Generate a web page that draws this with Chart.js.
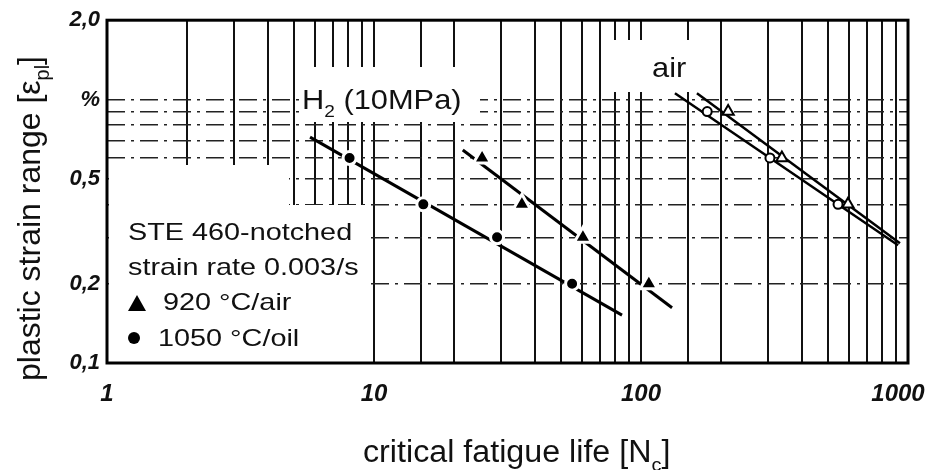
<!DOCTYPE html>
<html>
<head>
<meta charset="utf-8">
<script src="https://cdn.jsdelivr.net/npm/chart.js@4.4.1/dist/chart.umd.min.js"></script>
<style>
  html, body { margin: 0; padding: 0; background: #fff; }
</style>
</head>
<body>
<canvas id="chart" width="930" height="470"></canvas>
<script>
// --- values (N = cycles, strain in %) ---
// H2 (10 MPa), 1050 °C/oil  (filled circles)
const oilCycles = [8.1, 15.3, 28.9, 55.2];
const oilStrain = [0.6, 0.4, 0.3, 0.2];
// H2 (10 MPa), 920 °C/air  (filled triangles)
const normCycles = [25.4, 35.8, 60.6, 107];
const normStrain = [0.6, 0.4, 0.3, 0.2];
// air, open circles / open triangles
const airOilCycles = [177, 304, 547];
const airOilStrain = [0.9, 0.6, 0.4];
const airNormCycles = [212, 337, 596];
const airNormStrain = [0.9, 0.6, 0.4];

// fitted lines (end points)
const oilFitCycles = [5.76, 84.9];
const oilFitStrain = [0.72, 0.152];
const normFitCycles = [21.5, 130.7];
const normFitStrain = [0.643, 0.162];
const airOilFitCycles = [134, 918];
const airOilFitStrain = [1.057, 0.28];
const airNormFitCycles = [162, 933];
const airNormFitStrain = [1.057, 0.285];

// tick labels (trailing spaces pull the last label inside the frame)
const xTickValues = [1, 10, 100, 1000];
const xTickLabels = ['1', '10', '100', '1000   '];
const yTickValues = [0.1, 0.2, 0.5, 1, 2];
const yTickLabels = ['0,1', '0,2', '0,5', '%', '2,0'];

const toPoints = (xs, ys) => xs.map((x, i) => ({ x: x, y: ys[i] }));

function pickLabel(values, labels, v) {
    const i = values.findIndex(t => Math.abs(t - v) / t < 1e-6);
    return i >= 0 ? labels[i] : '';
}

const fontFamily = '"Liberation Sans", Arial, sans-serif';

// Draw text made of normal / subscript parts
function drawRich(ctx, parts, x, y, size, sx, rotate) {
    ctx.save();
    ctx.translate(x, y);
    if (rotate) ctx.rotate(-Math.PI / 2);
    ctx.scale(sx, 1);
    ctx.fillStyle = '#111';
    ctx.textAlign = 'left';
    ctx.textBaseline = 'alphabetic';
    let cx = 0;
    parts.forEach(p => {
        const fs = p.sub ? size * 0.62 : size;
        ctx.font = fs + 'px ' + fontFamily;
        ctx.fillText(p.t, cx, p.sub ? size * 0.28 : 0);
        cx += ctx.measureText(p.t).width;
    });
    ctx.restore();
}

const overlay = {
    id: 'overlay',
    beforeDatasetsDraw(chart) {
        const ctx = chart.ctx;
        ctx.save();
        ctx.fillStyle = '#fff';
        // blank areas behind the labels
        ctx.fillRect(109, 165, 180, 197);
        ctx.fillRect(109, 205, 262, 157);
        ctx.fillRect(300, 67, 180, 55);
        ctx.fillRect(606, 40, 112, 52);
        ctx.restore();
    },
    afterDatasetsDraw(chart) {
        const { ctx, chartArea: a } = chart;
        ctx.save();
        ctx.strokeStyle = '#000';
        ctx.lineWidth = 3;
        ctx.strokeRect(a.left, a.top, a.right - a.left, a.bottom - a.top);
        ctx.restore();
    },
    afterDraw(chart) {
        const ctx = chart.ctx;
        drawRich(ctx, [{ t: 'plastic strain range [ε' }, { t: 'pl', sub: true }, { t: ']' }], 40, 381, 32, 1, true);
        drawRich(ctx, [{ t: 'critical fatigue life [N' }, { t: 'c', sub: true }, { t: ']' }], 363, 462, 31, 1.04, false);
        drawRich(ctx, [{ t: 'H' }, { t: '2', sub: true }, { t: ' (10MPa)' }], 302, 109, 28, 1.1, false);
        drawRich(ctx, [{ t: 'air' }], 652, 77, 28, 1.1, false);

        // legend block
        drawRich(ctx, [{ t: 'STE 460-notched' }], 128, 240, 24, 1.2, false);
        drawRich(ctx, [{ t: 'strain rate 0.003/s' }], 128, 275, 24, 1.2, false);
        drawRich(ctx, [{ t: '920 °C/air' }], 163, 310, 24, 1.2, false);
        drawRich(ctx, [{ t: '1050 °C/oil' }], 158, 346, 24, 1.2, false);
        ctx.save();
        ctx.fillStyle = '#000';
        ctx.beginPath();
        ctx.moveTo(128, 311);
        ctx.lineTo(146, 311);
        ctx.lineTo(137, 295);
        ctx.closePath();
        ctx.fill();
        ctx.beginPath();
        ctx.arc(134, 338, 6, 0, Math.PI * 2);
        ctx.fill();
        ctx.restore();
    }
};

const filledMarker = (style, r) => ({
    showLine: false,
    pointStyle: style,
    pointRadius: r,
    pointBackgroundColor: '#000',
    pointBorderColor: '#fff',
    pointBorderWidth: 3
});
const openMarker = (style, r) => ({
    showLine: false,
    pointStyle: style,
    pointRadius: r,
    pointBackgroundColor: '#fff',
    pointBorderColor: '#000',
    pointBorderWidth: 2
});
const fitLine = (w) => ({
    showLine: true,
    pointRadius: 0,
    borderColor: '#000',
    borderWidth: w
});

new Chart(document.getElementById('chart'), {
    type: 'scatter',
    data: {
        datasets: [
            { label: 'H2 1050 °C/oil', data: toPoints(oilCycles, oilStrain), ...filledMarker('circle', 6.5) },
            { label: 'H2 920 °C/air', data: toPoints(normCycles, normStrain), ...filledMarker('triangle', 10) },
            { label: 'air 1050 °C/oil', data: toPoints(airOilCycles, airOilStrain), ...openMarker('circle', 4.5) },
            { label: 'air 920 °C/air', data: toPoints(airNormCycles, airNormStrain), ...openMarker('triangle', 6.5) },
            { label: 'fit H2 oil', data: toPoints(oilFitCycles, oilFitStrain), ...fitLine(3) },
            { label: 'fit H2 air', data: toPoints(normFitCycles, normFitStrain), ...fitLine(3) },
            { label: 'fit air oil', data: toPoints(airOilFitCycles, airOilFitStrain), ...fitLine(2.5) },
            { label: 'fit air air', data: toPoints(airNormFitCycles, airNormFitStrain), ...fitLine(2.5) }
        ]
    },
    options: {
        responsive: false,
        animation: false,
        devicePixelRatio: 1,
        layout: { padding: { top: 20, right: 22, left: 0, bottom: 0 } },
        plugins: {
            legend: { display: false },
            tooltip: { enabled: false }
        },
        scales: {
            x: {
                type: 'logarithmic',
                min: 1,
                max: 1000,
                afterFit: s => { s.height = 107; s.paddingLeft = 0; s.paddingRight = 0; },
                ticks: {
                    autoSkip: false,
                    maxRotation: 0,
                    padding: 17,
                    color: '#111',
                    font: { family: fontFamily, size: 24, style: 'italic', weight: 'bold' },
                    callback: v => pickLabel(xTickValues, xTickLabels, v)
                },
                grid: { color: '#111', lineWidth: 2, drawTicks: false },
                border: { display: false }
            },
            y: {
                type: 'logarithmic',
                min: 0.1,
                max: 2,
                afterFit: s => { s.width = 107; },
                ticks: {
                    autoSkip: false,
                    padding: 7,
                    color: '#111',
                    font: { family: fontFamily, size: 22, style: 'italic', weight: 'bold' },
                    callback: v => pickLabel(yTickValues, yTickLabels, v)
                },
                grid: {
                    color: c => (c.tick && c.tick.value > 0.15 && c.tick.value < 1.05) ? '#222' : 'rgba(0,0,0,0)',
                    lineWidth: 1.5,
                    drawTicks: false
                },
                border: { display: false, dash: [18, 6, 3, 6] }
            }
        }
    },
    plugins: [overlay]
});
</script>
</body>
</html>
